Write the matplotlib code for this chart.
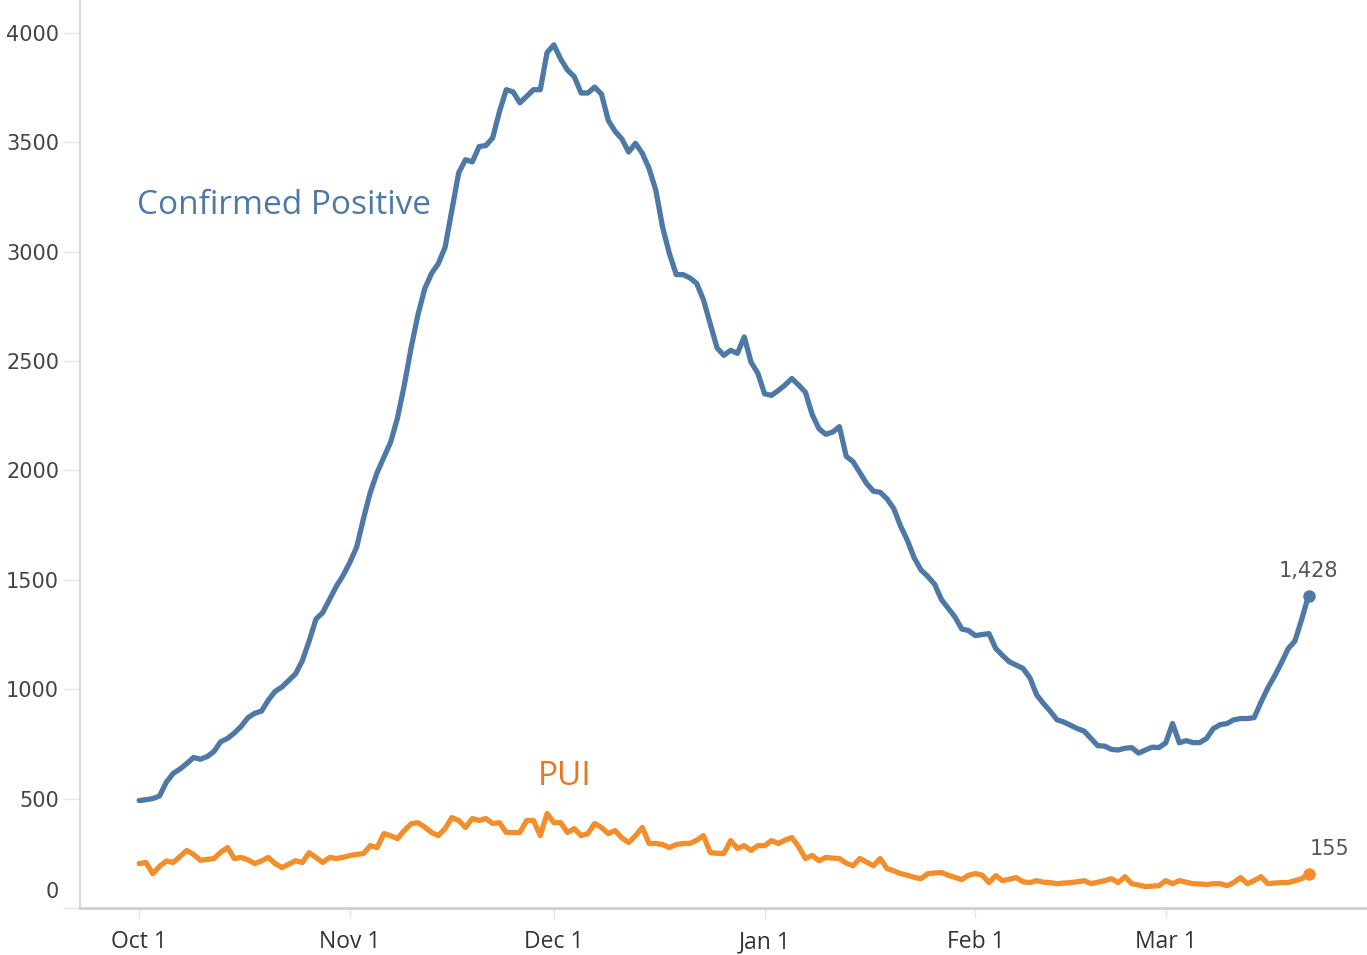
import matplotlib.pyplot as plt
import matplotlib.transforms as mtransforms
import pandas as pd

# daily values, Oct 1 2020 .. Mar 22 2021
start_date = "2020-10-01"
end_date = "2021-03-22"

confirmed = [
    491, 495, 500, 512, 575, 615, 635, 660, 688, 680,
    692, 715, 760, 775, 800, 830, 870, 890, 900, 950,
    990, 1010, 1040, 1070, 1130, 1220, 1320, 1350, 1410, 1470,
    1520, 1580, 1650, 1780, 1900, 1990, 2060, 2130, 2240, 2390,
    2560, 2710, 2830, 2900, 2945, 3020, 3190, 3360, 3420, 3410,
    3480, 3485, 3520, 3640, 3740, 3730, 3680, 3710, 3740, 3740,
    3910, 3945, 3880, 3830, 3800, 3725, 3725, 3752, 3720, 3600,
    3550, 3515, 3455, 3495, 3450, 3380, 3280, 3110, 2990, 2895,
    2895, 2880, 2855, 2780, 2670, 2560, 2526, 2549, 2535, 2610,
    2495, 2444, 2350, 2343, 2365, 2390, 2420, 2390, 2357, 2255,
    2190, 2165, 2175, 2200, 2065, 2040, 1990, 1940, 1905, 1900,
    1870, 1825, 1745, 1680, 1600, 1545, 1515, 1480, 1410, 1370,
    1330, 1275, 1268, 1245, 1250, 1254, 1186, 1154, 1125, 1110,
    1095, 1053, 975, 935, 900, 860, 850, 835, 820, 808,
    775, 742, 740, 725, 722, 730, 733, 708, 722, 735,
    733, 755, 843, 755, 765, 756, 756, 775, 820, 838,
    843, 860, 866, 866, 870, 940, 1005, 1060, 1120, 1185,
    1220, 1320, 1428,
]

pui = [
    203, 208, 157, 190, 215, 208, 235, 263, 245, 218,
    222, 226, 255, 276, 226, 231, 220, 203, 215, 231,
    203, 185, 200, 216, 208, 253, 231, 208, 231, 226,
    232, 240, 245, 249, 285, 276, 340, 330, 317, 354,
    385, 390, 370, 345, 331, 363, 413, 400, 368, 409,
    400, 409, 386, 390, 345, 345, 345, 400, 400, 331,
    432, 390, 390, 345, 363, 331, 340, 386, 368, 340,
    354, 320, 299, 330, 368, 295, 295, 290, 276, 290,
    295, 295, 310, 331, 253, 250, 249, 308, 272, 285,
    263, 285, 285, 308, 295, 310, 322, 280, 226, 240,
    216, 231, 228, 226, 205, 193, 226, 210, 193, 226,
    180, 170, 157, 150, 140, 134, 157, 160, 162, 150,
    140, 130, 150, 157, 150, 116, 148, 125, 132, 139,
    120, 116, 125, 118, 116, 111, 114, 116, 120, 125,
    111, 118, 125, 134, 116, 143, 111, 105, 98, 100,
    102, 125, 111, 125, 118, 111, 110, 107, 111, 111,
    102, 116, 139, 111, 125, 143, 111, 114, 116, 116,
    125, 134, 155,
]

y_ticks = [0, 500, 1000, 1500, 2000, 2500, 3000, 3500, 4000]
x_ticks = ["2020-10-01", "2020-11-01", "2020-12-01", "2021-01-01", "2021-02-01", "2021-03-01"]
x_labels = ["Oct 1", "Nov 1", "Dec 1", "Jan 1", "Feb 1", "Mar 1"]

dates = pd.date_range(start_date, end_date, freq="D")

BLUE = "#4e79a7"
ORANGE = "#f28e2b"

fig = plt.figure(figsize=(13.67, 9.55), dpi=100)
ax = fig.add_axes([80 / 1367, 47 / 955, 1 - 80 / 1367, 1 - 47 / 955])

ax.plot(dates, confirmed, color=BLUE, lw=3.8, solid_joinstyle="round", solid_capstyle="round")
ax.plot(dates, pui, color=ORANGE, lw=3.8, solid_joinstyle="round", solid_capstyle="round")
ax.plot(dates[-1], confirmed[-1], "o", color=BLUE, ms=8)
ax.plot(dates[-1], pui[-1], "o", color=ORANGE, ms=8)

ax.annotate(f"{confirmed[-1]:,}", (dates[-1], confirmed[-1]), xytext=(0, 18),
            textcoords="offset points", ha="center", va="center",
            fontsize=15, color="#555555", family="DejaVu Sans")
ax.annotate(f"{pui[-1]:,}", (dates[-1], pui[-1]), xytext=(15, 18),
            textcoords="offset points", ha="center", va="center",
            fontsize=15, color="#555555", family="DejaVu Sans")

ax.text(0.0443, 0.774, "Confirmed Positive", transform=ax.transAxes,
        fontsize=24, color=BLUE, family="Open Sans", va="center")
ax.text(0.356, 0.145, "PUI", transform=ax.transAxes,
        fontsize=24, color="#e87722", family="Open Sans", va="center")

x0 = pd.Timestamp(start_date)
ax.set_xlim(x0 - pd.Timedelta(days=8.7), x0 + pd.Timedelta(days=180.6))
ax.set_ylim(0, 4150)

ax.set_yticks(y_ticks)
ax.set_yticklabels([str(v) for v in y_ticks], fontsize=15, color="#444444", family="DejaVu Sans")
ax.set_xticks(pd.to_datetime(x_ticks))
ax.set_xticklabels(x_labels, fontsize=16.5, color="#333333", family="Open Sans")

ax.tick_params(axis="y", length=12, width=1, color="#e6e6e6", pad=3)
ax.tick_params(axis="x", length=7, width=1, color="#e6e6e6", pad=9)

# Tableau pushes the zero label up off the axis line
lbl0 = ax.get_yticklabels()[0]
lbl0.set_transform(lbl0.get_transform() + mtransforms.ScaledTranslation(0, 0.18, fig.dpi_scale_trans))

for side in ["top", "right"]:
    ax.spines[side].set_visible(False)
ax.spines["left"].set_color("#d9d9d9")
ax.spines["left"].set_linewidth(1.5)
ax.spines["bottom"].set_color("#d0d0d0")
ax.spines["bottom"].set_linewidth(2)

plt.savefig("out.png", dpi=100)
